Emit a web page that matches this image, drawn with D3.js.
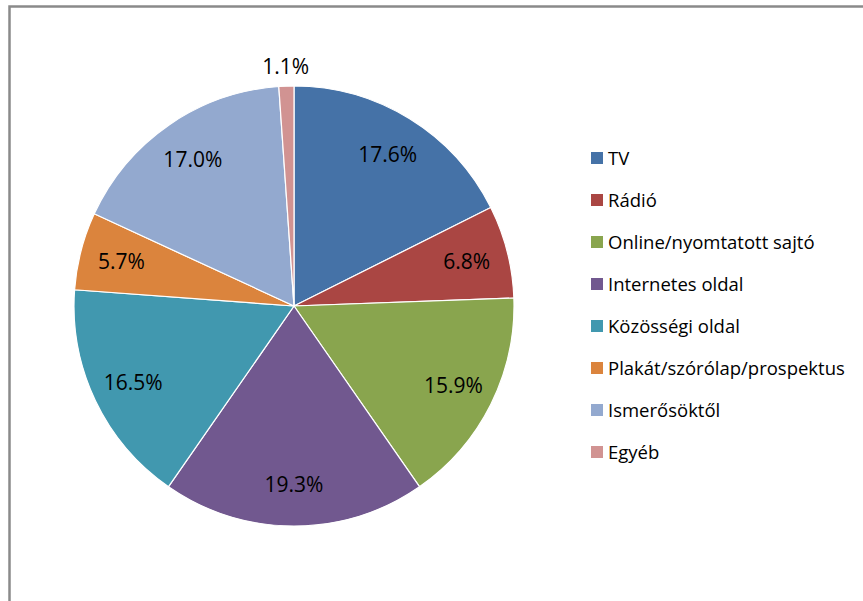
<!DOCTYPE html>
<html><head><meta charset="utf-8">
<script src="https://cdn.jsdelivr.net/npm/d3@7"></script>
<style>body{margin:0;background:#fff}svg{display:block}</style>
</head><body>
<script>
const categories = ["TV","Rádió","Online/nyomtatott sajtó","Internetes oldal","Közösségi oldal","Plakát/szórólap/prospektus","Ismerősöktől","Egyéb"];
const values = [17.6, 6.8, 15.9, 19.3, 16.5, 5.7, 17.0, 1.1];
const colors = ["#4572A7","#AA4643","#89A54E","#71588F","#4198AF","#DB843D","#93A9CF","#D19392"];

const W = 863, H = 601;
const svg = d3.select("body").append("svg").attr("width", W).attr("height", H);

// frame
svg.append("rect").attr("x", 9.5).attr("y", 6.5).attr("width", 900).attr("height", 700)
  .attr("fill", "#fff").attr("stroke", "#8a8a8a").attr("stroke-width", 2.5);

const cx = 294, cy = 306, R = 220;
const data = categories.map((c, i) => ({c, v: values[i], col: colors[i]}));
const pie = d3.pie().value(d => d.v).sort(null);
const arcs = pie(data);
const arc = d3.arc().innerRadius(0).outerRadius(R);
const g = svg.append("g").attr("transform", `translate(${cx},${cy})`);
g.selectAll("path").data(arcs).join("path")
  .attr("d", arc).attr("fill", d => d.data.col)
  .attr("stroke", "#fff").attr("stroke-width", 1.2);

const labelArc = d3.arc().innerRadius(R * 0.81).outerRadius(R * 0.81);
const outArc = d3.arc().innerRadius(R + 20).outerRadius(R + 20);
g.selectAll("text").data(arcs).join("text")
  .attr("transform", d => {
    const p = (d.data.v < 3 ? outArc : labelArc).centroid(d);
    return `translate(${p[0]},${p[1]})`;
  })
  .attr("text-anchor", "middle").attr("dy", "0.36em")
  .attr("font-family", "'Open Sans', sans-serif").attr("font-size", 21).attr("fill", "#000")
  .text(d => d.data.v.toFixed(1) + "%");

// legend
const ly = d3.scalePoint().domain(categories).range([158, 452]);
const lg = svg.append("g");
const items = lg.selectAll("g").data(data).join("g")
  .attr("transform", d => `translate(591,${ly(d.c)})`);
items.append("rect").attr("x", 0).attr("y", -6).attr("width", 12).attr("height", 12).attr("fill", d => d.col);
items.append("text").attr("x", 17).attr("dy", "0.36em")
  .attr("font-family", "'Open Sans', sans-serif").attr("font-size", 18.5).attr("fill", "#000")
  .text(d => d.c);
</script>
</body></html>
